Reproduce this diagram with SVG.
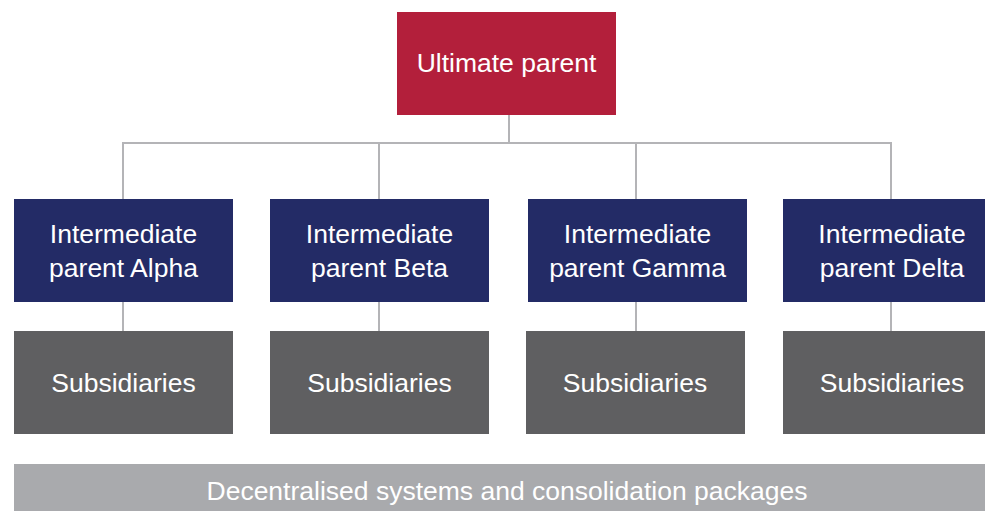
<svg xmlns="http://www.w3.org/2000/svg" width="985" height="511" viewBox="0 0 985 511">
  <style>
    .lbl { font-family: "Liberation Sans", Arial, sans-serif; font-size: 26.5px; fill: #ffffff; text-anchor: middle; }
    .top { fill: #b31f3b; }
    .mid { fill: #232b66; }
    .sub { fill: #5f5f61; }
    .bar { fill: #a9aaad; }
    .conn { stroke: #b4b4b7; stroke-width: 2; fill: none; }
  </style>
  <rect width="985" height="511" fill="#ffffff"/>

  <!-- connectors -->
  <g id="connectors" class="conn">
    <path d="M509 115 V143"/>
    <path d="M123 199 V143 H891 V199"/>
    <path d="M379 143 V199"/>
    <path d="M636 143 V199"/>
    <path d="M123 302 V331"/>
    <path d="M379 302 V331"/>
    <path d="M636 302 V331"/>
    <path d="M891 302 V331"/>
  </g>

  <!-- top level -->
  <g id="ultimate-parent">
    <rect class="top" x="397" y="12" width="219" height="103"/>
    <text class="lbl" x="506.5" y="72">Ultimate parent</text>
  </g>

  <!-- intermediate parents -->
  <g id="parent-alpha">
    <rect class="mid" x="14" y="199" width="219" height="103"/>
    <text class="lbl" x="123.5" y="243">Intermediate</text>
    <text class="lbl" x="123.5" y="277">parent Alpha</text>
  </g>
  <g id="parent-beta">
    <rect class="mid" x="270" y="199" width="219" height="103"/>
    <text class="lbl" x="379.5" y="243">Intermediate</text>
    <text class="lbl" x="379.5" y="277">parent Beta</text>
  </g>
  <g id="parent-gamma">
    <rect class="mid" x="528" y="199" width="219" height="103"/>
    <text class="lbl" x="637.5" y="243">Intermediate</text>
    <text class="lbl" x="637.5" y="277">parent Gamma</text>
  </g>
  <g id="parent-delta">
    <rect class="mid" x="783" y="199" width="202" height="103"/>
    <text class="lbl" x="892" y="243">Intermediate</text>
    <text class="lbl" x="892" y="277">parent Delta</text>
  </g>

  <!-- subsidiaries -->
  <g id="subs-alpha">
    <rect class="sub" x="14" y="331" width="219" height="103"/>
    <text class="lbl" x="123.5" y="392">Subsidiaries</text>
  </g>
  <g id="subs-beta">
    <rect class="sub" x="270" y="331" width="219" height="103"/>
    <text class="lbl" x="379.5" y="392">Subsidiaries</text>
  </g>
  <g id="subs-gamma">
    <rect class="sub" x="526" y="331" width="219" height="103"/>
    <text class="lbl" x="635" y="392">Subsidiaries</text>
  </g>
  <g id="subs-delta">
    <rect class="sub" x="783" y="331" width="202" height="103"/>
    <text class="lbl" x="892" y="392">Subsidiaries</text>
  </g>

  <!-- systems band -->
  <g id="systems">
    <rect class="bar" x="14" y="464" width="971" height="47"/>
    <text class="lbl" x="507" y="500">Decentralised systems and consolidation packages</text>
  </g>
</svg>
